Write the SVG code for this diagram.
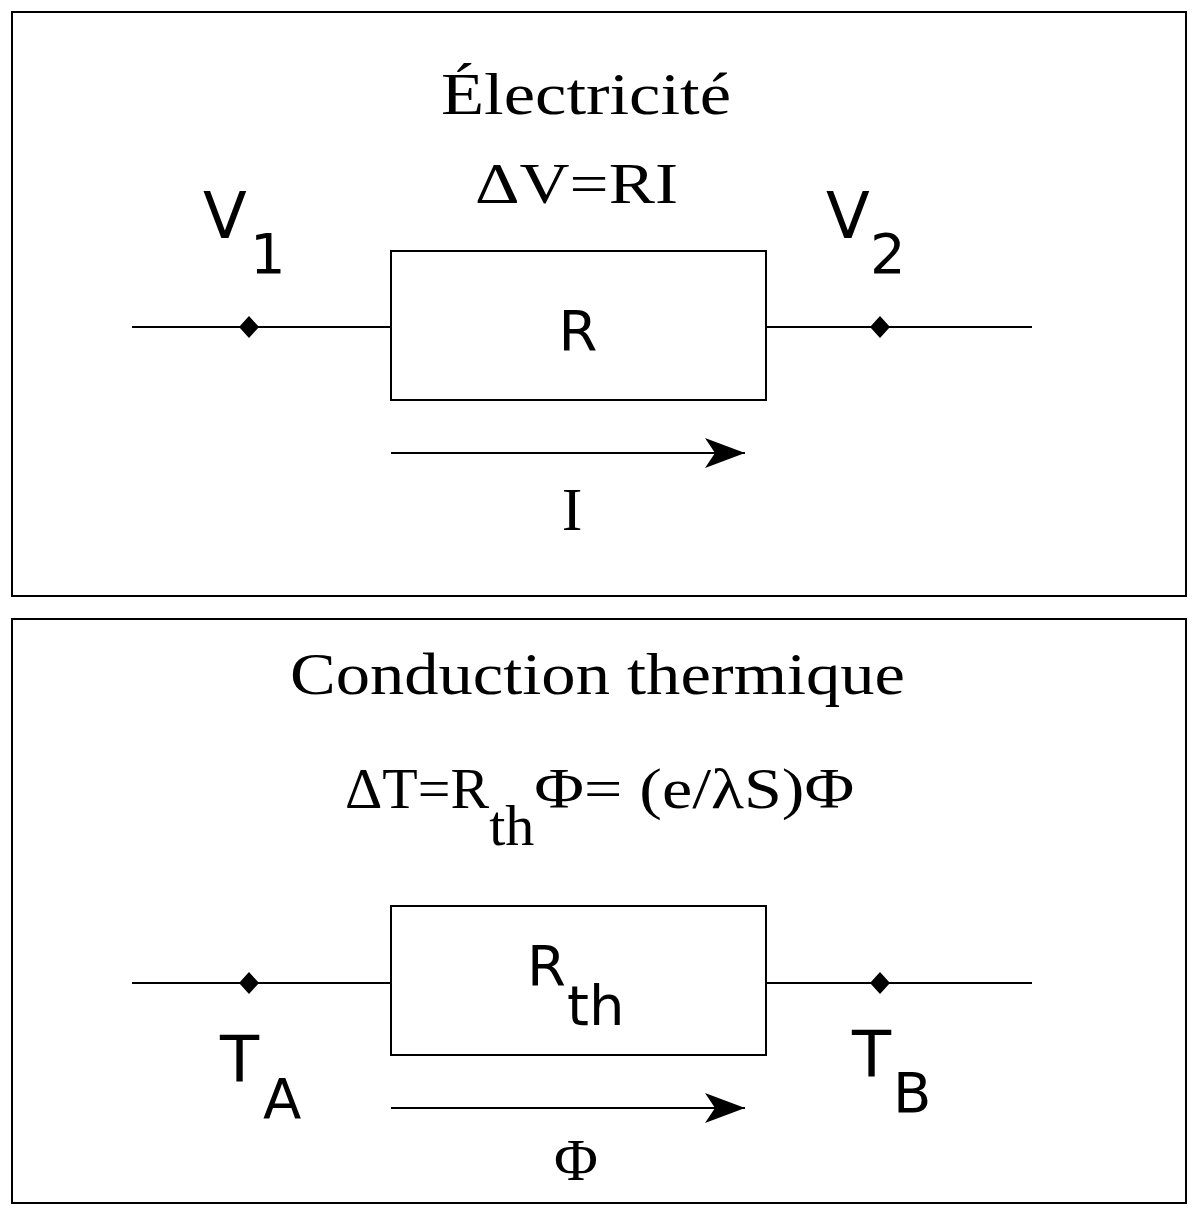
<svg xmlns="http://www.w3.org/2000/svg" width="1200" height="1229" viewBox="0 0 1200 1229">
<style>
.frame{fill:none;stroke:#000;stroke-width:2}
.ln{stroke:#000;stroke-width:2;fill:none}
.serif{font-family:"Liberation Serif",serif;fill:#000}
.sans{font-family:"DejaVu Sans","Liberation Sans",sans-serif;fill:#000}
</style>
<defs>
<marker id="ah" markerWidth="40" markerHeight="30" refX="40" refY="15" orient="auto" markerUnits="userSpaceOnUse">
<path d="M0,0 L40,15 L0,30 L10,15 Z" fill="#000"/>
</marker>
</defs>
<rect width="1200" height="1229" fill="#fff"/>
<g id="panel-elec">
<rect class="frame" x="12" y="12" width="1174" height="584"/>
<text class="serif" x="441" y="114" font-size="60" textLength="290" lengthAdjust="spacingAndGlyphs">Électricité</text>
<text class="serif" x="475" y="203" font-size="58" textLength="203" lengthAdjust="spacingAndGlyphs">ΔV=RI</text>
</g>
<g id="node-V1">
<path d="M249,316 L259,327 L249,338 L239,327 Z" fill="#000"/>
<text class="sans" x="203" y="238" font-size="64">V</text>
<text class="sans" x="250" y="273" font-size="56">1</text>
</g>
<g id="node-R">
<rect class="ln" x="391" y="251" width="375" height="149" fill="#fff"/>
<text class="sans" x="578" y="350" font-size="56" text-anchor="middle">R</text>
</g>
<g id="node-V2">
<path d="M880,316 L890,327 L880,338 L870,327 Z" fill="#000"/>
<text class="sans" x="826" y="238" font-size="64">V</text>
<text class="sans" x="870" y="273" font-size="56">2</text>
</g>
<g id="label-I"><text class="serif" x="572" y="530" font-size="62" text-anchor="middle">I</text></g>
<g id="panel-therm">
<rect class="frame" x="12" y="619" width="1174" height="584"/>
<text class="serif" x="290" y="694" font-size="60" textLength="615" lengthAdjust="spacingAndGlyphs">Conduction thermique</text>
<text class="serif" x="345" y="808" font-size="58">ΔT=R<tspan dy="37">th</tspan><tspan dy="-37" textLength="320" lengthAdjust="spacingAndGlyphs">Φ= (e/λS)Φ</tspan></text>
</g>
<g id="node-TA">
<path d="M249,972 L259,983 L249,994 L239,983 Z" fill="#000"/>
<text class="sans" x="220" y="1082" font-size="64">T</text>
<text class="sans" x="263" y="1118" font-size="56">A</text>
</g>
<g id="node-Rth">
<rect class="ln" x="391" y="906" width="375" height="149" fill="#fff"/>
<text class="sans" x="527" y="985" font-size="56">R</text>
<text class="sans" x="567" y="1025" font-size="56">th</text>
</g>
<g id="node-TB">
<path d="M880,972 L890,983 L880,994 L870,983 Z" fill="#000"/>
<text class="sans" x="852" y="1077" font-size="64">T</text>
<text class="sans" x="893" y="1112" font-size="56">B</text>
</g>
<g id="label-phi"><text class="serif" x="576" y="1180" font-size="60" text-anchor="middle">Φ</text></g>
<g id="connectors">
<line class="ln" x1="132" y1="327" x2="391" y2="327"/>
<line class="ln" x1="766" y1="327" x2="1032" y2="327"/>
<line class="ln" x1="391" y1="453" x2="745" y2="453" marker-end="url(#ah)"/>
<line class="ln" x1="132" y1="983" x2="391" y2="983"/>
<line class="ln" x1="766" y1="983" x2="1032" y2="983"/>
<line class="ln" x1="391" y1="1108" x2="745" y2="1108" marker-end="url(#ah)"/>
</g>
</svg>
